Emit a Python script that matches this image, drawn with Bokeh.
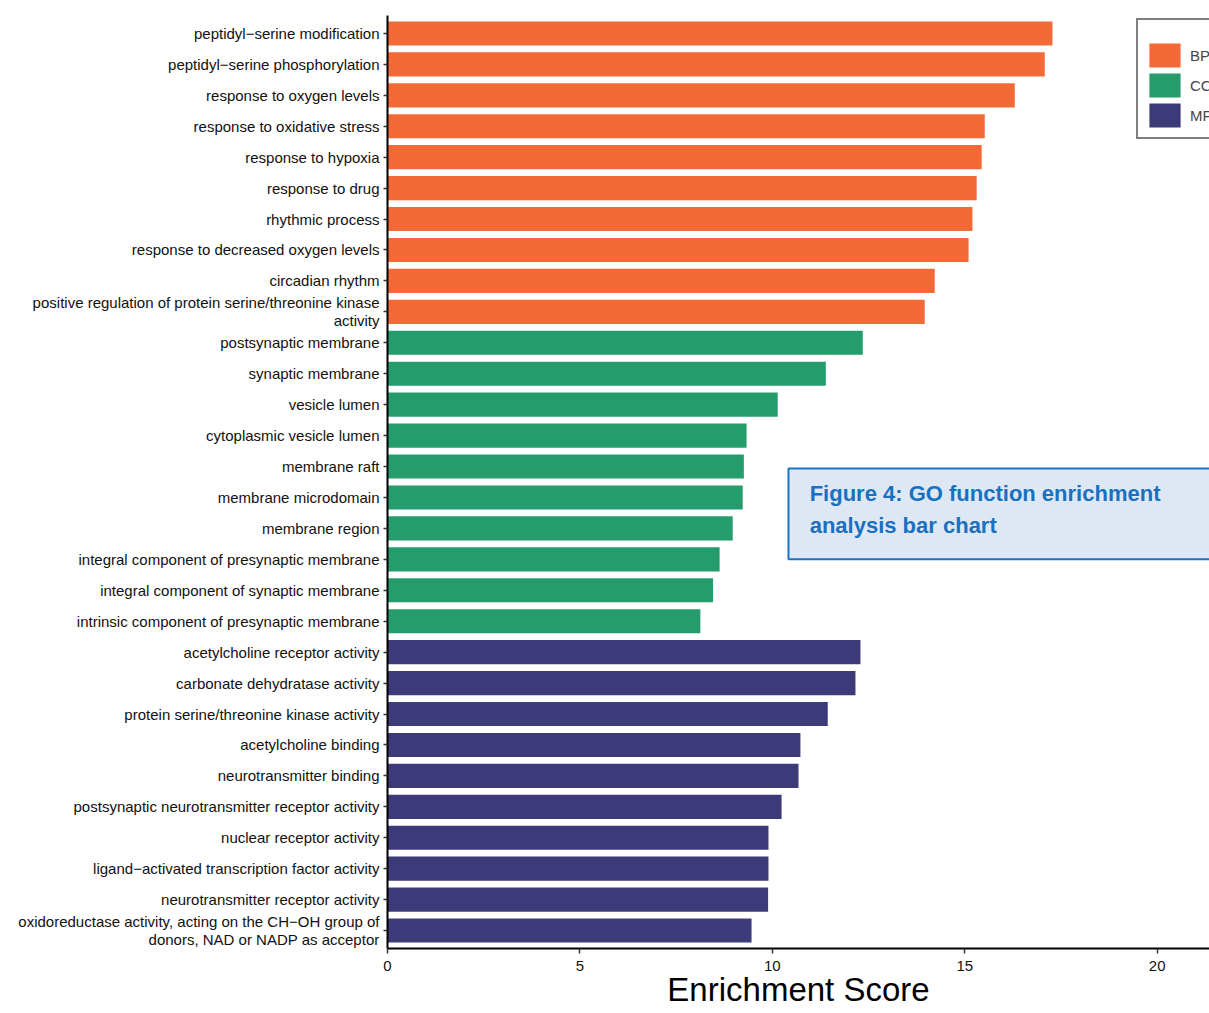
from bokeh.plotting import figure
from bokeh.models import Range1d, FixedTicker, ColumnDataSource, Label, BoxAnnotation
from bokeh.embed import file_html
from bokeh.resources import INLINE

# ---------------- data ----------------
bp_terms = [
    "peptidyl\u2212serine modification",
    "peptidyl\u2212serine phosphorylation",
    "response to oxygen levels",
    "response to oxidative stress",
    "response to hypoxia",
    "response to drug",
    "rhythmic process",
    "response to decreased oxygen levels",
    "circadian rhythm",
    "positive regulation of protein serine/threonine kinase\nactivity",
]
bp_scores = [17.28, 17.08, 16.30, 15.52, 15.44, 15.31, 15.20, 15.10, 14.22, 13.96]

cc_terms = [
    "postsynaptic membrane",
    "synaptic membrane",
    "vesicle lumen",
    "cytoplasmic vesicle lumen",
    "membrane raft",
    "membrane microdomain",
    "membrane region",
    "integral component of presynaptic membrane",
    "integral component of synaptic membrane",
    "intrinsic component of presynaptic membrane",
]
cc_scores = [12.35, 11.39, 10.14, 9.33, 9.26, 9.23, 8.97, 8.63, 8.46, 8.13]

mf_terms = [
    "acetylcholine receptor activity",
    "carbonate dehydratase activity",
    "protein serine/threonine kinase activity",
    "acetylcholine binding",
    "neurotransmitter binding",
    "postsynaptic neurotransmitter receptor activity",
    "nuclear receptor activity",
    "ligand\u2212activated transcription factor activity",
    "neurotransmitter receptor activity",
    "oxidoreductase activity, acting on the CH\u2212OH group of\ndonors, NAD or NADP as acceptor",
]
mf_scores = [12.29, 12.16, 11.44, 10.73, 10.68, 10.24, 9.90, 9.90, 9.89, 9.46]

categories = ["BP", "CC", "MF"]
cat_colors = {"BP": "#F46A37", "CC": "#249C6B", "MF": "#3C3A78"}
x_ticks = [0, 5, 10, 15, 20]

# ---------------- build ----------------
terms = bp_terms + cc_terms + mf_terms
scores = bp_scores + cc_scores + mf_scores
groups = (["BP"] * len(bp_terms)) + (["CC"] * len(cc_terms)) + (["MF"] * len(mf_terms))
n = len(terms)
ypos = [n - 1 - i for i in range(n)]

source = ColumnDataSource(dict(
    y=ypos, score=scores, group=groups,
    color=[cat_colors[g] for g in groups],
))

FONT = "Liberation Sans"

p = figure(
    width=1209, height=1013,
    x_range=Range1d(0, 21.36), y_range=Range1d(-0.58, n - 1 + 0.58),
    output_backend="svg", toolbar_location=None,
    min_border_left=387, min_border_right=0, min_border_top=15, min_border_bottom=65,
)
p.outline_line_color = None
p.xgrid.visible = False
p.ygrid.visible = False

p.hbar(y="y", left=0, right="score", height=0.78, fill_color="color",
       line_color=None, legend_group="group", source=source)

# y axis
p.yaxis.ticker = FixedTicker(ticks=ypos)
p.yaxis.major_label_overrides = {ypos[i]: terms[i] for i in range(n)}
p.yaxis.major_label_text_font = FONT
p.yaxis.major_label_text_font_size = "15px"
p.yaxis.major_label_text_color = "#111111"
p.yaxis.major_label_text_line_height = 1.05
p.yaxis.major_label_standoff = 4
p.yaxis.major_tick_out = 4
p.yaxis.major_tick_in = 0
p.yaxis.minor_tick_line_color = None
p.yaxis.axis_line_width = 2
p.yaxis.axis_line_color = "black"
p.yaxis.major_tick_line_color = "#333333"
p.yaxis.major_tick_line_width = 1.5

# x axis
p.xaxis.ticker = FixedTicker(ticks=x_ticks)
p.xaxis.major_label_text_font = FONT
p.xaxis.major_label_text_font_size = "15px"
p.xaxis.major_label_text_color = "#111111"
p.xaxis.major_label_standoff = 7
p.xaxis.major_tick_out = 5
p.xaxis.major_tick_in = 0
p.xaxis.minor_tick_line_color = None
p.xaxis.axis_line_width = 2
p.xaxis.axis_line_color = "black"
p.xaxis.major_tick_line_color = "#333333"
p.xaxis.major_tick_line_width = 1.5
p.xaxis.axis_label = "Enrichment Score"
p.xaxis.axis_label_text_font = FONT
p.xaxis.axis_label_text_font_size = "33px"
p.xaxis.axis_label_text_font_style = "normal"
p.xaxis.axis_label_text_color = "black"
p.xaxis.axis_label_standoff = -3

# legend
lg = p.legend[0]
lg.location = (749, 809)
lg.border_line_color = "black"
lg.border_line_width = 2
lg.background_fill_color = "white"
lg.padding = 7
lg.margin = 0
lg.spacing = 0
lg.glyph_width = 39
lg.glyph_height = 30
lg.label_height = 30
lg.label_standoff = 6
lg.label_text_font = FONT
lg.label_text_font_size = "15px"
lg.title = " "
lg.title_text_font_size = "11px"
lg.title_standoff = 1

# caption box
p.add_layout(BoxAnnotation(
    left=10.42, right=22.5, top=14.94, bottom=12.0,
    fill_color="#DDE8F4", fill_alpha=1.0,
    line_color="#1F73C4", line_width=2, line_alpha=1.0,
))
p.add_layout(Label(
    x=10.97, y=14.52, text="Figure 4: GO function enrichment\nanalysis bar chart",
    text_align="left", text_baseline="top", text_font="Liberation Sans",
    text_font_style="bold", text_font_size="22px", text_color="#1A70C0",
    text_line_height=1.26,
))

open("out.html", "w").write(file_html(p, INLINE))
